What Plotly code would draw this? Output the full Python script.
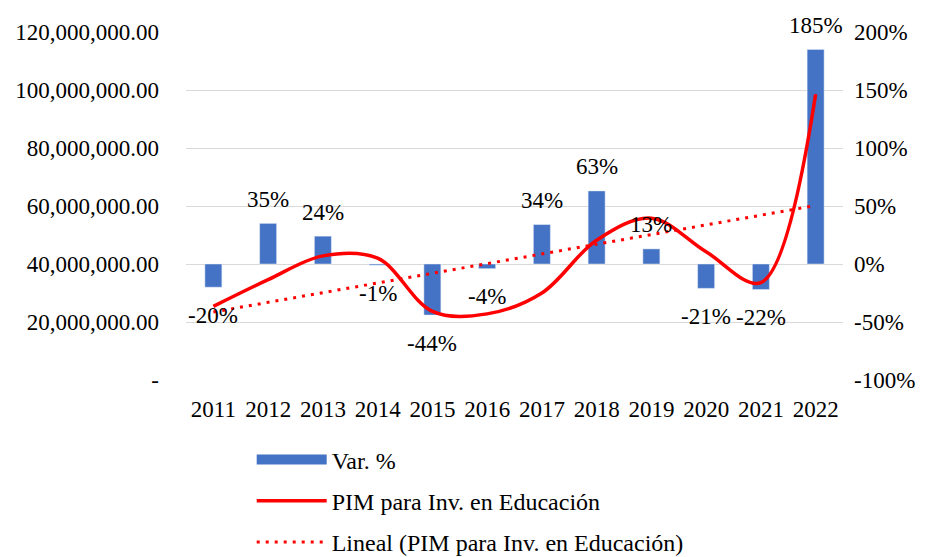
import numpy as np
import plotly.graph_objects as go

years = ["2011", "2012", "2013", "2014", "2015", "2016", "2017", "2018", "2019", "2020", "2021", "2022"]
var_pct = [-0.20, 0.35, 0.24, -0.01, -0.44, -0.04, 0.34, 0.63, 0.13, -0.21, -0.22, 1.85]
pim = [25.4e6, 34.6e6, 42.8e6, 42.0e6, 23.7e6, 22.8e6, 30.0e6, 48.2e6, 55.8e6, 44.2e6, 33.6e6, 98.5e6]

left_ticks = [0, 20e6, 40e6, 60e6, 80e6, 100e6, 120e6]
right_ticks = [-1.0, -0.5, 0.0, 0.5, 1.0, 1.5, 2.0]

FONT = "Times New Roman, Liberation Serif, DejaVu Serif, serif"
FS = 23
BLUE = "#4472C4"
RED = "#FF0000"

def money(v):
    return "-" if v == 0 else f"{v:,.2f}"

def pct(v):
    return f"{round(v * 100):d}%"

# linear trend (Excel "Lineal")
xi = np.arange(1, len(pim) + 1)
slope, intercept = np.polyfit(xi, pim, 1)
trend = slope * xi + intercept

fig = go.Figure()
fig.add_trace(go.Bar(
    x=years, y=var_pct, name="Var. %", marker_color=BLUE,
    yaxis="y", showlegend=False, legendgroup="a",
))
# legend swatch for the bar series (wide rectangle as in the original)
fig.add_trace(go.Scatter(
    x=[None], y=[None], name="Var. %", mode="lines",
    line=dict(color=BLUE, width=10), yaxis="y", legendgroup="a",
))
fig.add_trace(go.Scatter(
    x=years, y=pim, name="PIM para Inv. en Educación", mode="lines",
    line=dict(color=RED, width=3.5, shape="spline", smoothing=1.0),
    yaxis="y2", legendgroup="b",
))
fig.add_trace(go.Scatter(
    x=years, y=trend, name="Lineal (PIM para Inv. en Educación)", mode="lines",
    line=dict(color=RED, width=3, dash="3px,6px"),
    yaxis="y2", legendgroup="c",
))

annotations = []
for i, v in enumerate(var_pct):
    annotations.append(dict(
        x=i, y=v, xref="x", yref="y", text=pct(v), showarrow=False,
        yshift=24 if v >= 0 else -28, font=dict(family=FONT, size=FS, color="#000000"),
    ))

fig.update_layout(
    width=928, height=557, autosize=False,
    margin=dict(l=178, r=93, t=24, b=185, autoexpand=False),
    paper_bgcolor="white", plot_bgcolor="white",
    font=dict(family=FONT, size=FS, color="#000000"),
    bargap=0.69,
    annotations=annotations,
    xaxis=dict(type="category", range=[-0.5, len(years) - 0.5], autorange=False,
               showgrid=False, zeroline=False, showline=False,
               ticks="", ticklabelstandoff=13, tickfont=dict(size=FS)),
    yaxis=dict(side="right", range=[-1.0, 2.0], autorange=False, tickvals=right_ticks,
               ticktext=[pct(v) for v in right_ticks], showgrid=True,
               gridcolor="#D9D9D9", gridwidth=1.3, zeroline=False, showline=False,
               ticks="", ticklabelstandoff=10),
    yaxis2=dict(side="left", overlaying="y", range=[0, 120e6], autorange=False,
                tickvals=left_ticks,
                ticktext=[money(v) for v in left_ticks], showgrid=False,
                zeroline=False, showline=False, ticks="", ticklabelstandoff=26),
    legend=dict(orientation="v", x=0.10, y=-0.165, xanchor="left", yanchor="top",
                traceorder="grouped", tracegroupgap=7, itemwidth=70,
                font=dict(family=FONT, size=24), bgcolor="rgba(0,0,0,0)"),
)

fig.write_html("out.html")
